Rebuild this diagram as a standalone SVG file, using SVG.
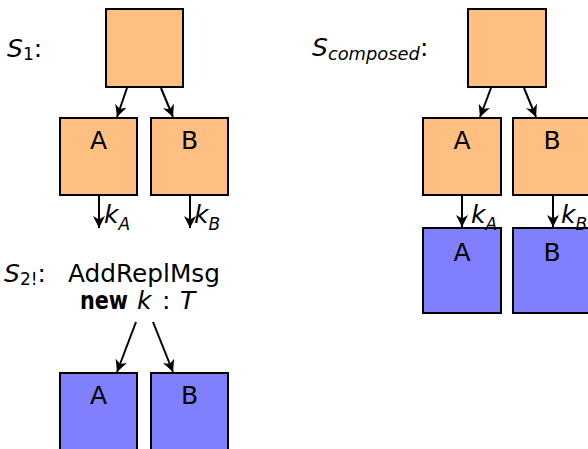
<svg xmlns="http://www.w3.org/2000/svg" width="588" height="449" viewBox="0 0 588 449">
<defs>
<marker id="ah" markerUnits="userSpaceOnUse" markerWidth="13" markerHeight="12" viewBox="0 0 13 12" refX="12" refY="6" orient="auto">
<path d="M0,0 L12,6 L0,12 L3.5,6 z" fill="#000"/>
</marker>
<style>
.or{fill:#FFBF80;stroke:#000;stroke-width:2}
.bl{fill:#8080FF;stroke:#000;stroke-width:2}
.lbl{font-family:"DejaVu Sans","Liberation Sans",sans-serif;font-size:25px;fill:#000;text-anchor:middle}
.t{font-family:"DejaVu Sans","Liberation Sans",sans-serif;fill:#000}
.it{font-style:italic}
.c{stroke:#000;stroke-width:2;fill:none;marker-end:url(#ah)}
</style>
</defs>
<rect width="588" height="449" fill="#fff"/>

<!-- titles -->
<text class="t" x="7" y="57" font-size="25"><tspan class="it">S</tspan><tspan font-size="17" dy="3">1</tspan><tspan dy="-3">:</tspan></text>
<text class="t" x="312" y="56" font-size="25"><tspan class="it">S</tspan><tspan class="it" font-size="17" dy="4" textLength="92" lengthAdjust="spacingAndGlyphs">composed</tspan><tspan dy="-4">:</tspan></text>
<text class="t" x="4" y="282" font-size="25"><tspan class="it">S</tspan><tspan font-size="17" dy="3">2!</tspan><tspan dy="-3">:</tspan></text>
<text class="t" x="68" y="282" font-size="25" textLength="152" lengthAdjust="spacingAndGlyphs">AddReplMsg</text>
<text class="t" x="80" y="309" font-size="25"><tspan font-weight="bold" textLength="48" lengthAdjust="spacingAndGlyphs">new</tspan><tspan class="it" x="137">k</tspan><tspan x="162">:</tspan><tspan class="it" x="180">T</tspan></text>

<!-- S1 nodes -->
<g id="s1-root"><rect class="or" x="106" y="9" width="77" height="78"/></g>
<g id="s1-a"><rect class="or" x="60" y="118" width="77" height="77"/><text class="lbl" x="98.5" y="149">A</text></g>
<g id="s1-b"><rect class="or" x="151" y="118" width="77" height="77"/><text class="lbl" x="189.5" y="149">B</text></g>

<!-- S2 nodes -->
<g id="s2-a"><rect class="bl" x="60" y="373" width="77" height="90"/><text class="lbl" x="98.5" y="404">A</text></g>
<g id="s2-b"><rect class="bl" x="151" y="373" width="77" height="90"/><text class="lbl" x="189.5" y="404">B</text></g>

<!-- composed nodes -->
<g id="c-root"><rect class="or" x="468" y="9" width="78" height="78"/></g>
<g id="c-a"><rect class="or" x="423" y="118" width="78" height="77"/><text class="lbl" x="462" y="149">A</text></g>
<g id="c-b"><rect class="or" x="513" y="118" width="78" height="77"/><text class="lbl" x="552" y="149">B</text></g>
<g id="c-a2"><rect class="bl" x="423" y="228" width="78" height="85"/><text class="lbl" x="462" y="261">A</text></g>
<g id="c-b2"><rect class="bl" x="513" y="228" width="78" height="85"/><text class="lbl" x="552" y="261">B</text></g>

<!-- connectors -->
<g id="connectors">
<line class="c" x1="127" y1="88" x2="117" y2="117"/>
<line class="c" x1="161" y1="88" x2="173" y2="117"/>
<line class="c" x1="99" y1="196" x2="99" y2="228"/>
<line class="c" x1="190" y1="196" x2="190" y2="228"/>
<line class="c" x1="136" y1="322" x2="117" y2="372"/>
<line class="c" x1="153" y1="322" x2="173" y2="372"/>
<line class="c" x1="491" y1="88" x2="480" y2="117"/>
<line class="c" x1="524" y1="88" x2="536" y2="117"/>
<line class="c" x1="462" y1="196" x2="462" y2="227"/>
<line class="c" x1="553" y1="196" x2="553" y2="227"/>
</g>

<!-- edge labels -->
<text class="t" x="104" y="223" font-size="25"><tspan class="it">k</tspan><tspan class="it" font-size="17" dy="7">A</tspan></text>
<text class="t" x="194" y="223" font-size="25"><tspan class="it">k</tspan><tspan class="it" font-size="17" dy="7">B</tspan></text>
<text class="t" x="471" y="223" font-size="25"><tspan class="it">k</tspan><tspan class="it" font-size="17" dy="7">A</tspan></text>
<text class="t" x="561" y="223" font-size="25"><tspan class="it">k</tspan><tspan class="it" font-size="17" dy="7">B</tspan></text>
</svg>
